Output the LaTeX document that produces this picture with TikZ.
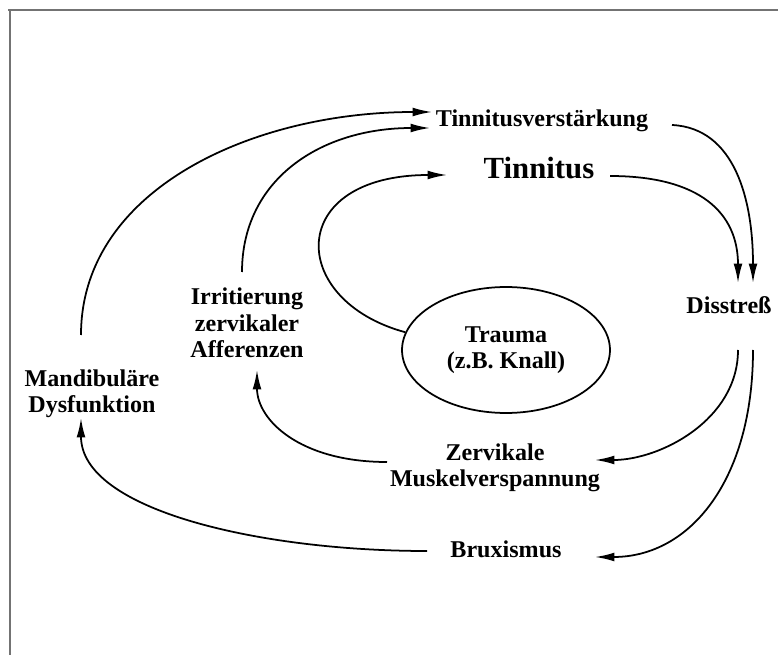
\documentclass[tikz,border=0pt]{standalone}
\usepackage{fontspec}
\setmainfont{Liberation Serif}
\usetikzlibrary{arrows.meta,calc,shapes.geometric}

\begin{document}
\begin{tikzpicture}
  [x=0.02cm,y=-0.02cm]
      \tikzstyle{label_style} = [font=\fontsize{13.7}{15}\selectfont\bfseries, align=center, inner sep=0]
      \tikzstyle{flow_style} = [draw=black, line width=1pt, -{Latex[length=11pt,width=5pt]}]
  \useasboundingbox (0,0) rectangle (778,655);
  \draw[black!55, line width=0.8pt] (8,10) -- (778,10);
  \draw[black!55, line width=0.8pt] (10,10) -- (10,655);
  \node[label_style] (verst) at (542,121) {Tinnitusverstärkung};
  \node[label_style, font=\fontsize{17.5}{20}\selectfont\bfseries] (tinn) at (539,168) {Tinnitus};
  \node[label_style] (diss) at (729,305) {Disstreß};
  \node[label_style, ellipse, draw, line width=1pt, minimum width=4.16cm, minimum height=2.52cm] (trauma) at (506,350) {Trauma\\(z.B. Knall)};
  \node[label_style] (irr) at (247,323) {Irritierung\\zervikaler\\Afferenzen};
  \node[label_style] (mand) at (92,394) {Mandibuläre\\Dysfunktion};
  \node[label_style] (zerv) at (495,468) {Zervikale\\Muskelverspannung};
  \node[label_style] (brux) at (506,549) {Bruxismus};
  \draw[flow_style] ($(mand)+(-11,-59)$) .. controls +(0,-145) and +(-180,0) .. ($(verst)+(-110,-9)$);
  \draw[flow_style] ($(irr)+(-5,-51)$) .. controls +(0,-92) and +(-110,0) .. ($(verst)+(-112,7)$);
  \draw[flow_style] (trauma.170) .. controls +(-118,-32) and +(-162,0) .. ($(tinn)+(-92,7)$);
  \draw[flow_style] ($(tinn)+(71,8)$) .. controls +(90,0) and +(0,-70) .. ($(diss)+(9,-22)$);
  \draw[flow_style] ($(verst)+(130,4)$) .. controls +(63,3) and +(0,-83) .. ($(diss)+(24,-22)$);
  \draw[flow_style] ($(diss)+(9,45)$) .. controls +(0,70) and +(65,0) .. ($(zerv)+(100,-8)$);
  \draw[flow_style] ($(diss)+(24,45)$) .. controls +(0,130) and +(95,0) .. ($(brux)+(89,8)$);
  \draw[flow_style] ($(zerv)+(-108,-6)$) .. controls +(-87,0) and +(0,50) .. ($(irr)+(10,47)$);
  \draw[flow_style] ($(brux)+(-79,2)$) .. controls +(-167,0) and +(0,92) .. ($(mand)+(-11,24)$);
\end{tikzpicture}
\end{document}
